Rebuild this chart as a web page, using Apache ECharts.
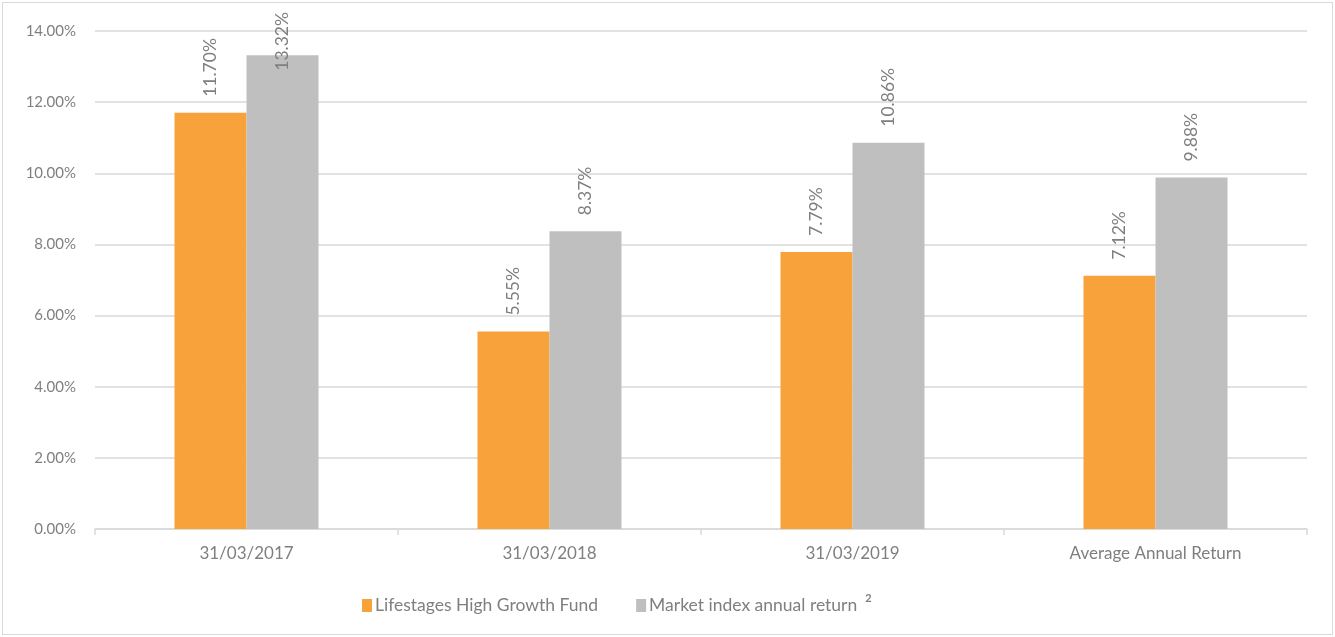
<!DOCTYPE html>
<html>
<head>
<meta charset="utf-8">
<script src="https://cdn.jsdelivr.net/npm/echarts@6/dist/echarts.min.js"></script>
<style>
html,body{margin:0;padding:0;background:#fff;}
#wrap{position:absolute;left:2px;top:2px;width:1329px;height:631px;border:1px solid #d9d9d9;}
#c{position:absolute;left:0;top:0;width:1335px;height:637px;}
</style>
</head>
<body>
<div id="wrap"></div>
<div id="c"></div>
<script>
const categories = ['31/03/2017', '31/03/2018', '31/03/2019', 'Average Annual Return'];
const fundValues = [11.70, 5.55, 7.79, 7.12];
const marketValues = [13.32, 8.37, 10.86, 9.88];
const seriesNames = ['Lifestages High Growth Fund', 'Market index annual return'];

const chart = echarts.init(document.getElementById('c'));
const font = 'Lato, "Open Sans", sans-serif';
const txt = '#7f7f7f';
const LABEL_SIZE = 17.5;
const LABEL_DIST = 16;
const labelCfg = {
  show: true, position: 'top', rotate: 90, align: 'left', verticalAlign: 'middle',
  distance: LABEL_DIST, color: txt, fontSize: LABEL_SIZE, fontFamily: font,
  formatter: p => p.value.toFixed(2) + '%'
};
const option = {
  animation: false,
  textStyle: { fontFamily: font },
  grid: { left: 95, right: 28, top: 31, bottom: 108 },
  legend: {
    top: 588, left: 357, itemWidth: 10, itemHeight: 13, itemGap: 38,
    icon: 'rect',
    textStyle: { color: txt, fontSize: 17.5, fontFamily: font, padding: [0, 0, 0, -2],
      rich: { sup: { fontSize: 11, color: txt, fontWeight: 'bold', verticalAlign: 'top', padding: [0, 0, 14, 8] } } },
    formatter: n => n === seriesNames[1] ? n + '{sup|2}' : n,
    data: seriesNames
  },
  xAxis: {
    type: 'category', data: categories,
    axisLine: { lineStyle: { color: '#d9d9d9', width: 1.5 } },
    axisTick: { show: true, length: 6, lineStyle: { color: '#d9d9d9', width: 1.5 } },
    axisLabel: { color: txt, fontSize: 17, fontFamily: font, margin: 16 }
  },
  yAxis: {
    type: 'value', min: 0, max: 14, interval: 2,
    axisLine: { show: false }, axisTick: { show: false },
    axisLabel: { color: txt, fontSize: 15, fontFamily: font, margin: 19, formatter: v => v.toFixed(2) + '%' },
    splitLine: { lineStyle: { color: '#d9d9d9', width: 1.5 } }
  },
  series: [
    { name: seriesNames[0], type: 'bar', data: fundValues, barWidth: 72, barGap: '0%',
      itemStyle: { color: '#F8A23C' }, label: labelCfg },
    { name: seriesNames[1], type: 'bar', data: marketValues, barWidth: 72,
      itemStyle: { color: '#BFBFBF' }, label: labelCfg }
  ]
};
chart.setOption(option);

// Keep labels inside the chart area (like the original): shift down those that would overflow the top.
const ctx = document.createElement('canvas').getContext('2d');
ctx.font = LABEL_SIZE + 'px ' + font;
function fitData(values, idx) {
  return values.map((v, i) => {
    const topPx = chart.convertToPixel({ seriesIndex: idx }, [i, v])[1];
    const len = ctx.measureText(v.toFixed(2) + '%').width;
    const minTop = 12;
    const labelTop = topPx - LABEL_DIST - len;
    if (labelTop < minTop) {
      return { value: v, label: { distance: topPx - minTop - len } };
    }
    return v;
  });
}
chart.setOption({ series: [{ data: fitData(fundValues, 0) }, { data: fitData(marketValues, 1) }] });
</script>
</body>
</html>
